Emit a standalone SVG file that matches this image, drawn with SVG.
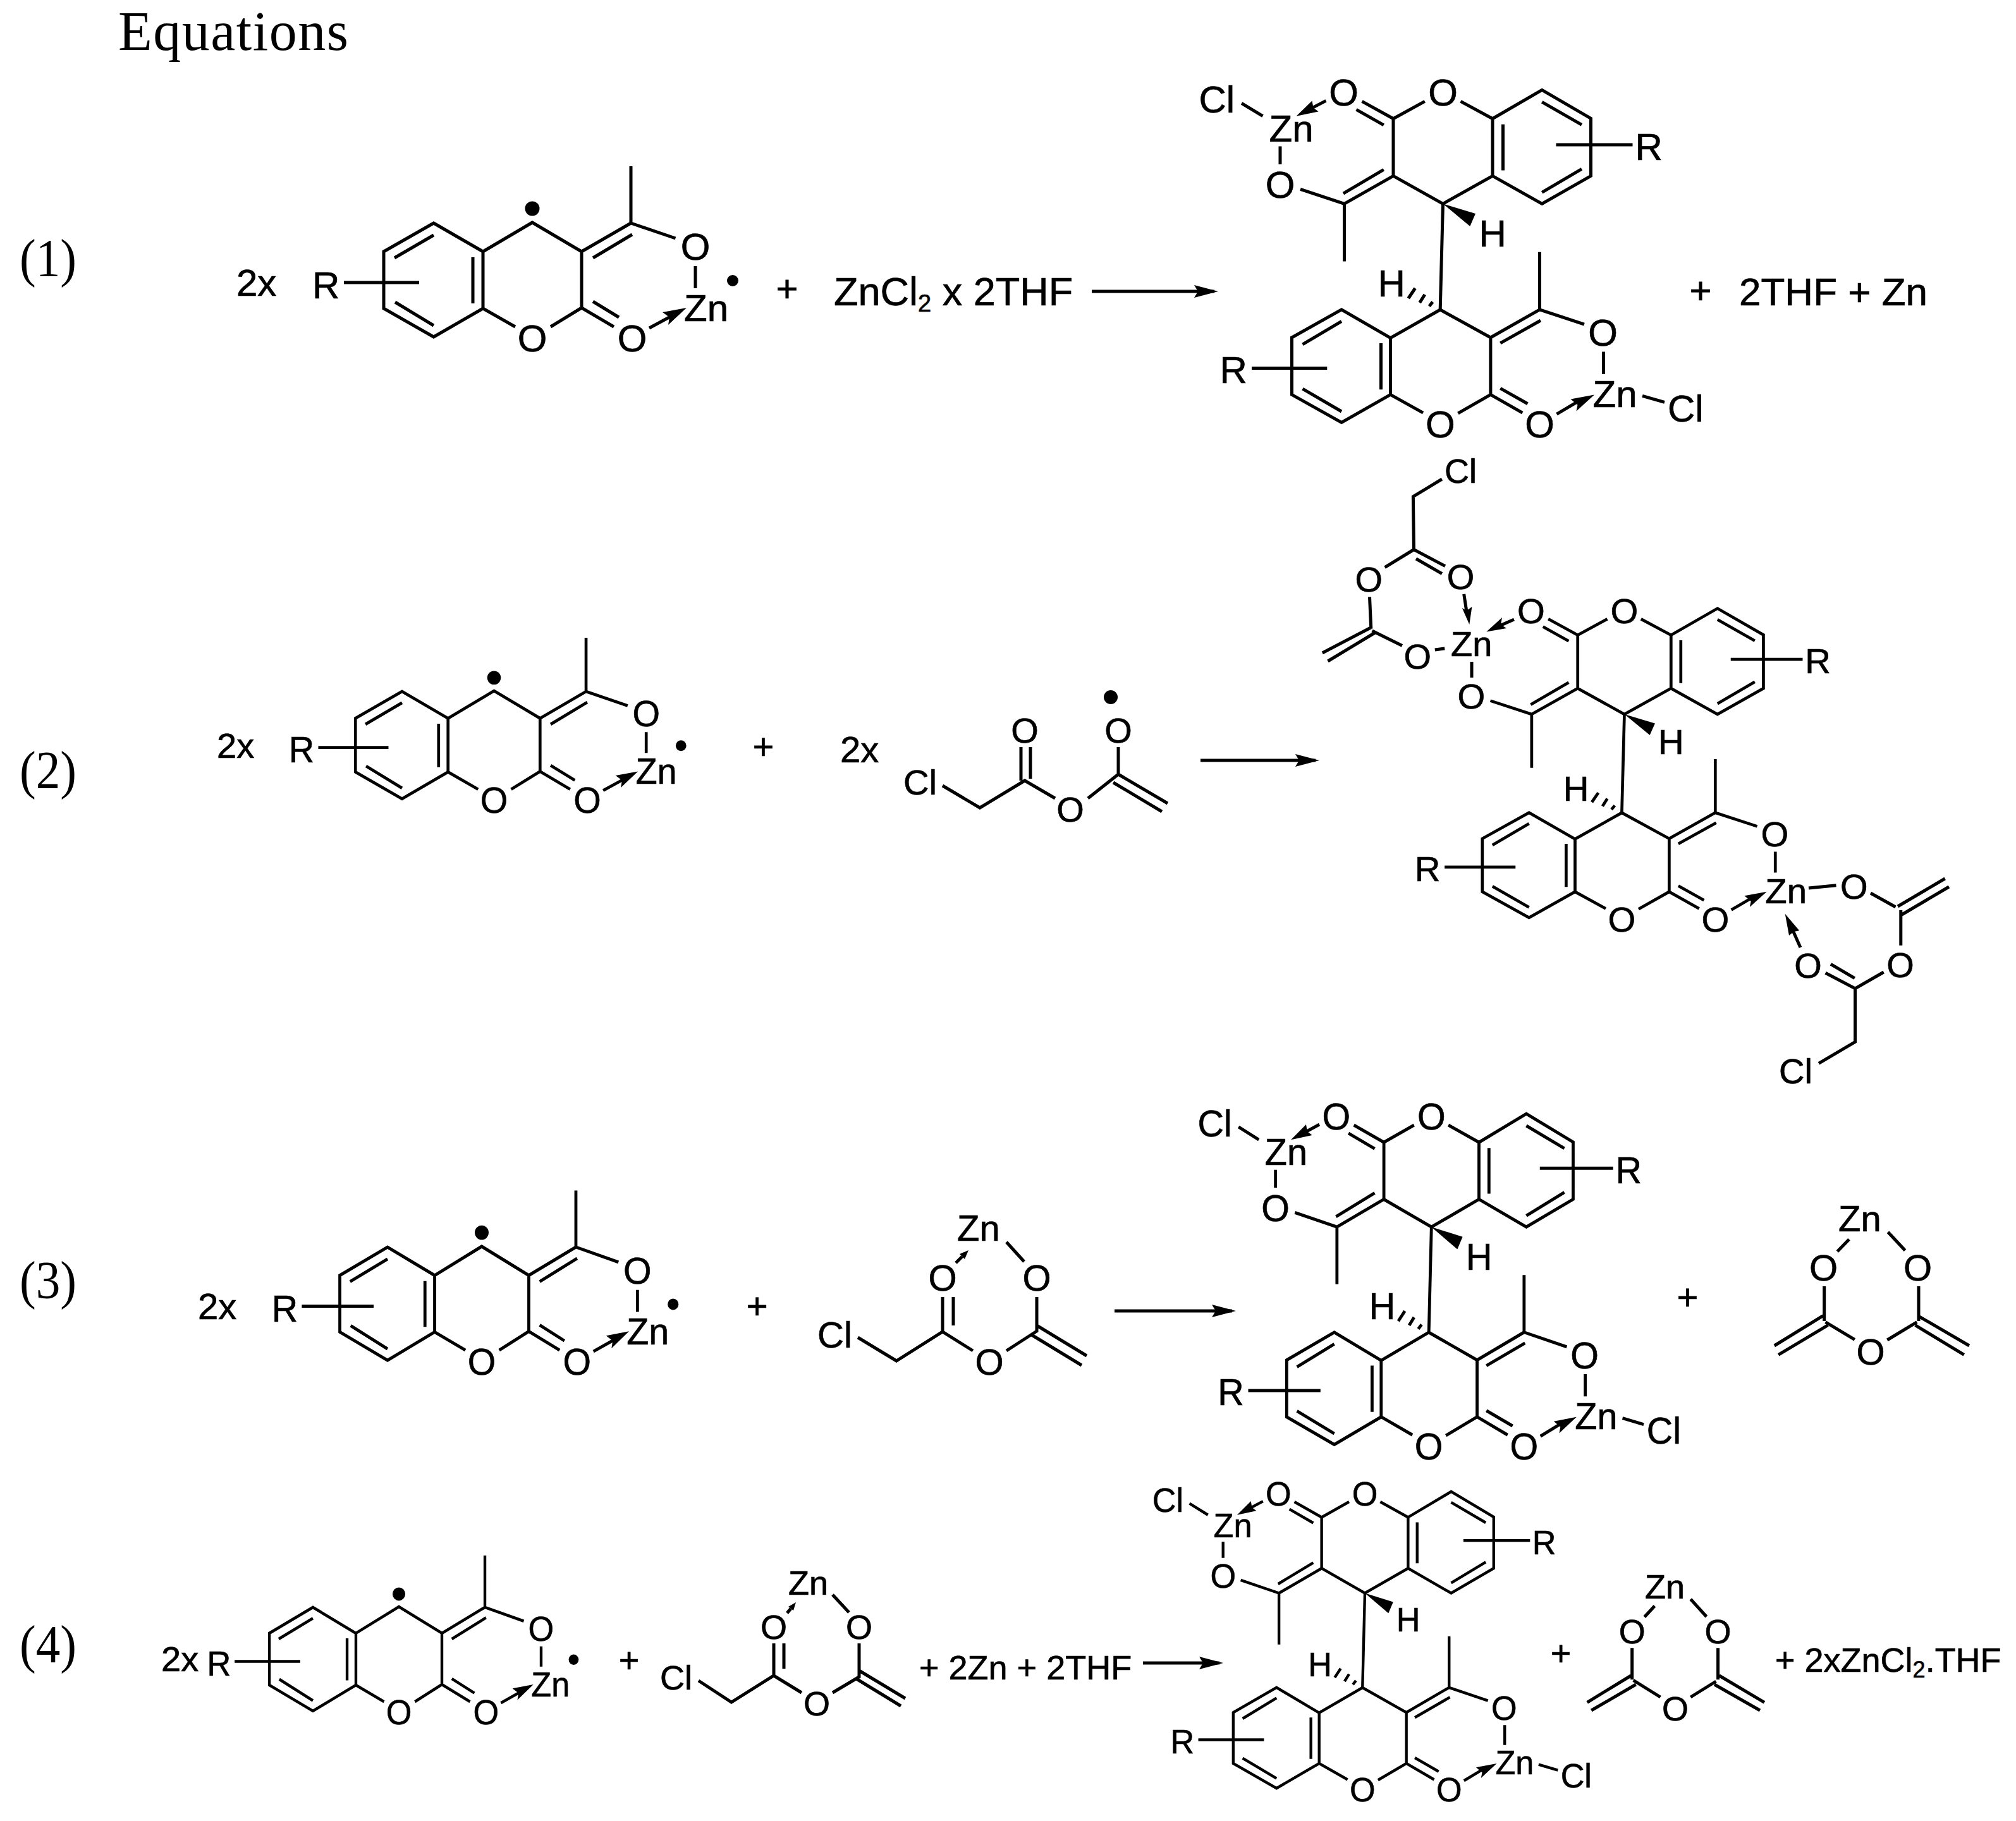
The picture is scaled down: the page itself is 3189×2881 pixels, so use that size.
<svg xmlns="http://www.w3.org/2000/svg" xmlns:xlink="http://www.w3.org/1999/xlink" width="3189" height="2881" viewBox="0 0 3189 2881">
<style>
.b{fill:none;stroke:#000;stroke-width:5;stroke-linecap:butt;stroke-linejoin:miter}
.f{fill:#000;stroke:none}
text{font-family:"Liberation Sans",Arial,sans-serif;font-size:60px;fill:#000;stroke:#000;stroke-width:.7}
.m{text-anchor:middle}
.s{font-family:"Liberation Serif","Times New Roman",serif;font-size:84px;stroke:none}
.r56{font-size:56px}.r58{font-size:58px}.r54{font-size:54px}.r62{font-size:62px}.r63{font-size:63px}
</style>
<defs>
<marker id="rx" markerUnits="userSpaceOnUse" viewBox="-40 -12 50 24" markerWidth="50" markerHeight="24" refX="0" refY="0" orient="auto"><path d="M6,0 L-32,-10 L-26,0 L-32,10 Z" fill="#000"/></marker>
<g id="react-skel">
<path class="b" d="M-78,46 L-156,1 L-235,46 L-235,136 L-156,181 L-78,136 Z M-156,20 L-218,56 M-217,126 L-156,163 M-94,55 L-94,128 M-78,46 L0,0 L78,46 L78,135 M78,46 L156,1 M96,56 L158,19 M156,1 L156,-89 M156,1 L226.5,25 M258,69 L258,104 M78,135 L129,165 M96,125 L137,150 M78,135 L29,165 M-78,136 L-27,165 M-298,95 L-179,95 M185,167 L222,147"/>
<path class="f" d="M244,135 L206,142 L217,150 L215,162 Z"/>
<ellipse class="f" cx="0" cy="-22" rx="11.5" ry="11.5"/>
<ellipse class="f" cx="317" cy="92" rx="9" ry="9"/>
</g>
<g id="prod-skel">
<path class="b" d="M78.5,-44 L78.5,-134.6 L156.7,-180 L234,-135 L234,-44 L156.7,0 Z M95,-125.7 L95,-53 M156.7,-161 L219.5,-125 M219.5,-55 L156.7,-18 M78.5,-44 L0,0 L-78.5,-44 L-78.5,-134.6 M-78.5,-44 L-156,0 M-93.7,-54 L-157.6,-16.3 M-156,0 L-156,91 M-156,0 L-225.5,-23 M-78.5,-134.6 L-128,-162 M-93.7,-124.5 L-137,-149 M-78.5,-134.6 L-28.7,-162 M78.5,-134.6 L28,-162 M179,-93.4 L300,-93.4 M0,0 L-4.3,167.6"/>
<path class="f" d="M0,0 L51.5,15.6 L42.8,35.6 Z"/>
<path class="b" d="M-54.7,149.6 L-43.9,133.6 M-36.8,156.4 L-28.7,143.6 M-21.7,162.1 L-16.2,155.2"/>
<path class="b" d="M-4.3,167.6 L-83,212.3 L-83,302 L-160.4,346 L-239,302 L-239,211.6 L-160.4,167.4 L-83,212.3 M-98,220.5 L-98,293.9 M-160.4,186 L-222,222.5 M-222,292.7 L-160.4,328.6 M-4.3,167.6 L75.4,211.6 L75.4,302 M75.4,211.6 L153,167.4 M90.8,220.5 L154.5,184.6 M153,167.4 L153,76.4 M153,167.4 L223.5,190.7 M254,234 L254,269.4 M75.4,302 L125.8,330.7 M90.8,292 L134,316.4 M75.4,302 L23.9,331.5 M-83,302 L-31.4,330.7 M-302.5,260 L-183.2,260 M180,332.7 L215,312"/>
<path class="f" d="M239.6,302 L202,309 L213,318 L211,328 Z"/>
</g>
<g id="prod-upzn">
<path class="b" d="M-318.5,-159 L-285,-138.7 M-257.5,-91 L-257.5,-62.4 M-185,-163 L-210,-150"/>
<path class="f" d="M-232,-138.7 L-207,-163 L-205,-152 L-197,-146 Z"/>
</g>
<path id="prod-lowcl" class="b" d="M315.5,304 L350.5,314"/>
</defs>

<text id="title" class="s" x="187" y="79" style="font-size:88px" textLength="364">Equations</text>
<text id="lab1" class="s" x="31" y="437" textLength="90" lengthAdjust="spacingAndGlyphs">(1)</text>
<text id="lab2" class="s" x="31" y="1247" textLength="90" lengthAdjust="spacingAndGlyphs">(2)</text>
<text id="lab3" class="s" x="31" y="2054" textLength="90" lengthAdjust="spacingAndGlyphs">(3)</text>
<text id="lab4" class="s" x="31" y="2630" textLength="90" lengthAdjust="spacingAndGlyphs">(4)</text>

<g id="eq1-reactant" transform="translate(842,352)">
<use href="#react-skel"/>
<text class="m" x="258" y="59">O</text><text x="240" y="156">Zn</text><text class="m" x="0" y="204">O</text><text class="m" x="158" y="204">O</text><text x="-348" y="120">R</text>
</g>
<g id="eq2-reactant" transform="translate(781.5,1093) scale(.933,.944)">
<use href="#react-skel"/>
<text class="m" x="258" y="59">O</text><text x="240" y="156">Zn</text><text class="m" x="0" y="204">O</text><text class="m" x="158" y="204">O</text><text x="-348" y="120">R</text>
</g>
<g id="eq3-reactant" transform="translate(762,1972) scale(.955,.995)">
<use href="#react-skel"/>
<text class="m" x="258" y="59">O</text><text x="240" y="156">Zn</text><text class="m" x="0" y="204">O</text><text class="m" x="158" y="204">O</text><text x="-348" y="120">R</text>
</g>
<g id="eq4-reactant" transform="translate(631,2542) scale(.872,.911)">
<use href="#react-skel"/>
<text class="m" x="258" y="59">O</text><text x="240" y="156">Zn</text><text class="m" x="0" y="204">O</text><text class="m" x="158" y="204">O</text><text x="-348" y="120">R</text>
</g>

<g id="eq1-product" transform="translate(2282.5,322.4)">
<use href="#prod-skel"/><use href="#prod-upzn"/><use href="#prod-lowcl"/>
<text class="m" x="-157" y="-155">O</text><text class="m" x="0" y="-155">O</text><text class="m" x="-257.5" y="-9.4">O</text><text x="-275" y="-98.7">Zn</text><text x="-386" y="-144">Cl</text><text x="304" y="-69.4">R</text><text x="57" y="68">H</text><text x="-103" y="147">H</text><text x="-353" y="283.7">R</text><text class="m" x="-4.3" y="369.8">O</text><text class="m" x="153" y="369.8">O</text><text class="m" x="253" y="225">O</text><text x="237" y="321.3">Zn</text><text x="355.5" y="344.6">Cl</text>
</g>
<g id="eq2-product" transform="translate(2569.5,1130) scale(.94,.93)">
<use href="#prod-skel"/>
<text class="m" x="-157" y="-155">O</text><text class="m" x="0" y="-155">O</text><text class="m" x="-257.5" y="-9.4">O</text><text x="304" y="-69.4">R</text><text x="57" y="68">H</text><text x="-103" y="147">H</text><text x="-353" y="283.7">R</text><text class="m" x="-4.3" y="369.8">O</text><text class="m" x="153" y="369.8">O</text><text class="m" x="253" y="225">O</text><text x="237" y="321.3">Zn</text>
</g>
<g id="eq2-product-top-ligand">
<path class="b" d="M2281,758 L2235.4,785.7 L2236.5,869.5 L2286,895.6 M2240,884 L2281,907.6 M2236.5,869.5 L2190.6,897.6 M2166.5,944.5 L2168.8,994.7 M2168.8,992.7 L2091.8,1033 M2175,1001 L2100.5,1046 M2170.5,998 L2218,1021.5 M2269.8,1028 L2285.3,1026 M2328,1047 L2328,1072 M2315.7,939.8 L2320,968 M2395,980 L2370,991"/>
<path class="f" d="M2324.3,988 L2312.9,962 L2320,966 L2328.4,960 Z M2351.3,999.4 L2376,977 L2374,988 L2383,994 Z"/>
<text class="r54" x="2285" y="763.6">Cl</text><text class="m r56" x="2310.6" y="932">O</text><text class="m r56" x="2165.3" y="936">O</text><text class="m r56" x="2242.2" y="1057.5">O</text><text class="r56" x="2295" y="1038">Zn</text>
</g>
<g id="eq2-product-bottom-ligand">
<path class="b" d="M2861,1405 L2904.5,1400.7 M2959,1413 L2998.5,1435 M3002,1434 L3076.7,1390 M3006.8,1448 L3083,1403 M3006.8,1440 L3006.8,1495.7 M2979.7,1538 L2934.6,1564 L2887.6,1539.3 M2933.8,1547.7 L2895.9,1525.3 M2934.6,1564 L2934.6,1648.3 L2877,1682.3 M2848,1499 L2836,1472"/>
<path class="f" d="M2823.7,1445.7 L2830,1480 L2837.6,1474 L2846.2,1472.3 Z"/>
<text class="m r56" x="2932.7" y="1421.5">O</text><text class="m r56" x="3006" y="1545.5">O</text><text class="m r56" x="2860" y="1547">O</text><text class="r56" x="2814" y="1714">Cl</text>
</g>
<g id="eq3-product" transform="translate(2264.3,1941.2) scale(.958,.995)">
<use href="#prod-skel"/><use href="#prod-upzn"/><use href="#prod-lowcl"/>
<text class="m" x="-157" y="-155">O</text><text class="m" x="0" y="-155">O</text><text class="m" x="-257.5" y="-9.4">O</text><text x="-275" y="-98.7">Zn</text><text x="-386" y="-144">Cl</text><text x="304" y="-69.4">R</text><text x="57" y="68">H</text><text x="-103" y="147">H</text><text x="-353" y="283.7">R</text><text class="m" x="-4.3" y="369.8">O</text><text class="m" x="153" y="369.8">O</text><text class="m" x="253" y="225">O</text><text x="237" y="321.3">Zn</text><text x="355.5" y="344.6">Cl</text>
</g>
<g id="eq4-product" transform="translate(2159,2520.5) scale(.871,.892)">
<use href="#prod-skel"/><use href="#prod-upzn"/><use href="#prod-lowcl"/>
<text class="m" x="-157" y="-155">O</text><text class="m" x="0" y="-155">O</text><text class="m" x="-257.5" y="-9.4">O</text><text x="-275" y="-98.7">Zn</text><text x="-386" y="-144">Cl</text><text x="304" y="-69.4">R</text><text x="57" y="68">H</text><text x="-103" y="147">H</text><text x="-353" y="283.7">R</text><text class="m" x="-4.3" y="369.8">O</text><text class="m" x="153" y="369.8">O</text><text class="m" x="253" y="225">O</text><text x="237" y="321.3">Zn</text><text x="355.5" y="344.6">Cl</text>
</g>

<g id="eq2-ester">
<path class="b" d="M1491,1243 L1550,1278 L1621,1235 L1669,1263 M1615,1235 L1615,1182 M1630,1232 L1630,1182 M1721,1263 L1769,1225 L1769,1182 M1769,1225 L1847,1271 M1761,1238 L1838,1284"/>
<ellipse class="f" cx="1757" cy="1103" rx="11" ry="11"/>
<text class="r56" x="1429" y="1257">Cl</text><text class="m r56" x="1621" y="1175">O</text><text class="m r56" x="1693" y="1300">O</text><text class="m r56" x="1769" y="1175">O</text>
</g>
<g id="eq3-ester">
<path class="b" d="M1357,2116 L1418,2153 L1491,2107 L1539,2137 M1491,2107 L1491,2052 M1508,2097 L1508,2052 M1592,2137 L1640,2106 L1640,2052 M1640,2097 L1719,2145 M1632,2112 L1711,2160 M1592,1965 L1620,1996 M1512,1998 L1522,1988"/>
<path class="f" d="M1532,1978 L1526,1992 L1518,1984 Z"/>
<text class="r58" x="1293" y="2132">Cl</text><text class="m r58" x="1491" y="2042">O</text><text class="m r58" x="1640" y="2042">O</text><text class="m r58" x="1565" y="2175">O</text><text class="r58" x="1514" y="1963">Zn</text>
</g>
<g id="eq4-ester">
<path class="b" d="M1105,2659 L1157,2693 L1224,2651 L1268,2678 M1224,2651 L1224,2600 M1240,2640 L1240,2600 M1317,2678 L1359,2653 L1359,2600 M1359,2643 L1432,2687 M1353,2655 L1425,2699 M1317,2523 L1343,2551 M1245,2552 L1251,2545"/>
<path class="f" d="M1259,2535 L1255,2548 L1247,2542 Z"/>
<text class="r54" x="1044" y="2673">Cl</text><text class="m r54" x="1224" y="2593">O</text><text class="m r54" x="1359" y="2593">O</text><text class="m r54" x="1292" y="2714">O</text><text class="r54" x="1247" y="2523">Zn</text>
</g>
<g id="eq3-anhydride">
<path class="b" d="M2925,1960.7 L2906.4,1980 M2986.5,1949.3 L3013.5,1978.3 M2885.7,2035 L2885.7,2090 M3035,2035 L3035,2090 M2887.6,2091.7 L2933.8,2119.3 M3032.3,2091.7 L2985.3,2120 M2883.8,2081.7 L2806.8,2129 M2891.4,2096.7 L2813.2,2143.3 M3035,2082.3 L3115,2129 M3029.7,2096.7 L3106.8,2143.3"/>
<text class="r58" x="2908" y="1947.7">Zn</text><text class="m r58" x="2884.6" y="2025.5">O</text><text class="m r58" x="3033.5" y="2025.5">O</text><text class="m r58" x="2959" y="2158.5">O</text>
</g>
<g id="eq4-anhydride">
<path class="b" d="M2617.4,2540.7 L2601.3,2558.3 M2674.3,2530 L2699.4,2557.7 M2581.7,2607.3 L2581.7,2657.3 M2717.6,2607.3 L2717.6,2657.3 M2583.7,2658.3 L2626.5,2685 M2714.5,2660 L2674.3,2685 M2580,2651 L2510.7,2693.3 M2587.7,2665 L2517.3,2706 M2719.6,2651 L2791,2693.3 M2712,2665 L2784,2706"/>
<text class="r54" x="2602" y="2529.3">Zn</text><text class="m r54" x="2581.7" y="2600">O</text><text class="m r54" x="2717.6" y="2600">O</text><text class="m r54" x="2650" y="2721.5">O</text>
</g>

<g id="eq-text">
<text x="374" y="468">2x</text>
<text class="m" x="1245" y="477">+</text>
<text class="r63" x="1319" y="483">ZnCl<tspan style="font-size:38px" dy="10">2</tspan><tspan dy="-10"> x 2THF</tspan></text>
<text class="m" x="2690" y="480">+</text>
<text class="r62" x="2751" y="483">2THF + Zn</text>
<text class="r56" x="343" y="1199">2x</text>
<text class="m r58" x="1207.5" y="1201">+</text>
<text class="r58" x="1329" y="1206">2x</text>
<text class="r58" x="313" y="2087">2x</text>
<text class="m r58" x="1197.6" y="2086">+</text>
<text class="m r58" x="2669.5" y="2072">+</text>
<text class="r56" x="255" y="2644">2x</text>
<text class="m r56" x="995" y="2646">+</text>
<text class="r54" x="1454" y="2657">+ 2Zn + 2THF</text>
<text class="m r56" x="2469" y="2635">+</text>
<text class="r54" x="2808" y="2645">+ 2xZnCl<tspan style="font-size:36px" dy="9">2</tspan><tspan dy="-9">.THF</tspan></text>
</g>

<g id="connectors">
<path class="b" d="M1727,461 L1921,461" marker-end="url(#rx)"/>
<path class="b" d="M1899,1203 L2081,1203" marker-end="url(#rx)"/>
<path class="b" d="M1763,2074 L1949,2074" marker-end="url(#rx)"/>
<path class="b" d="M1808,2631 L1929,2631" marker-end="url(#rx)"/>
</g>
</svg>
